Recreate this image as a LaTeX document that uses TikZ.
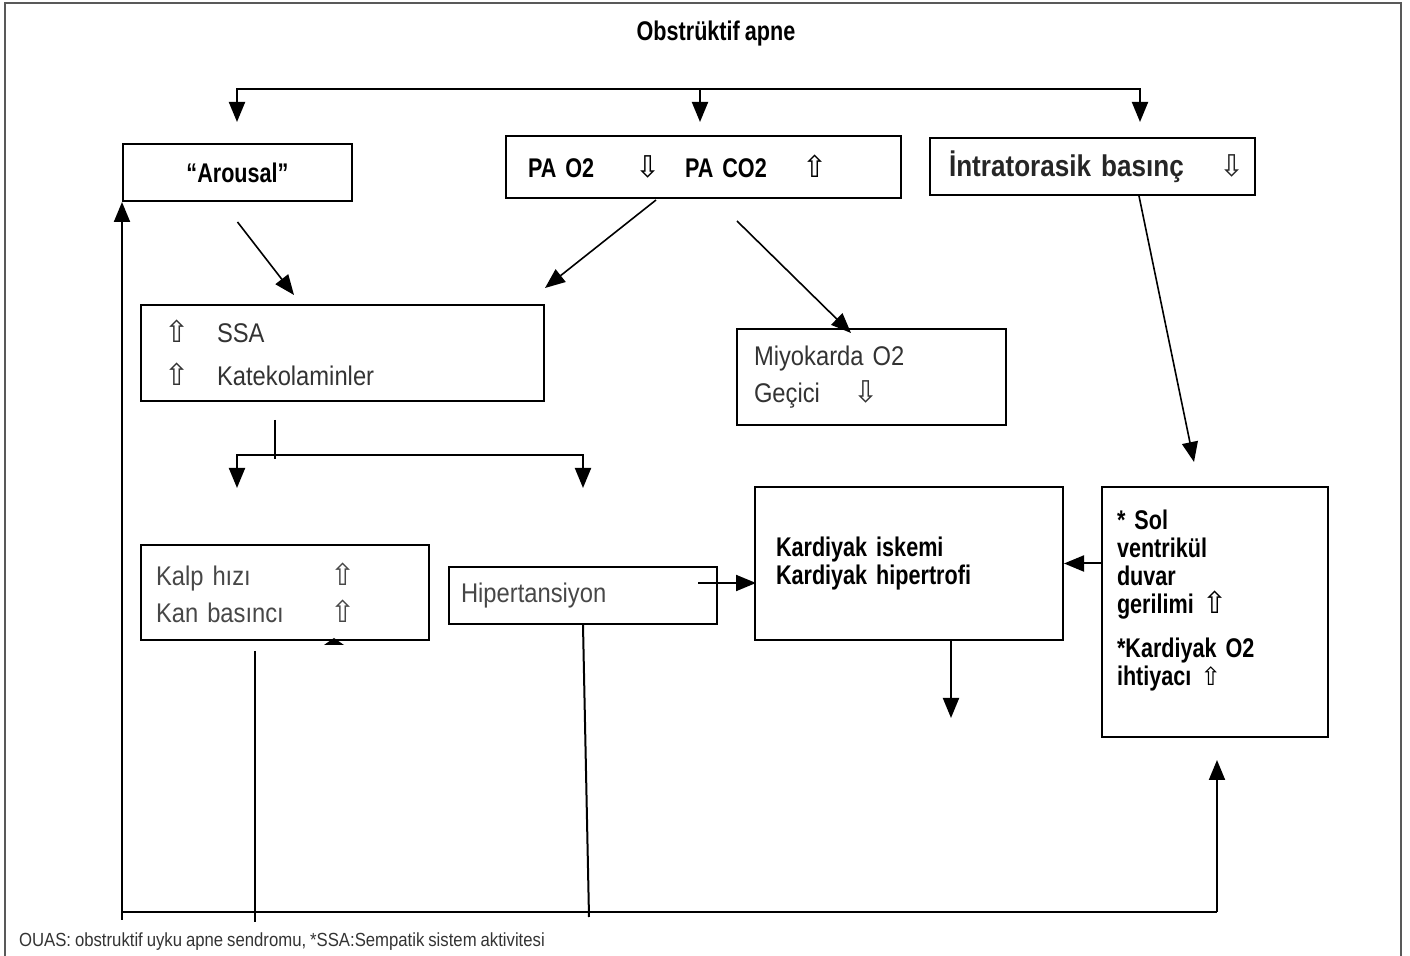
\documentclass[tikz,border=0pt]{standalone}
\usepackage{fontspec}
\setmainfont{Liberation Sans}[FakeStretch=0.88,WordSpace=0.85]
\newfontfamily\hdfont{Liberation Sans}[FakeStretch=0.8,WordSpace=0.85]
\newfontfamily\widefont{Liberation Sans}[FakeStretch=0.87,WordSpace=0.9]
\newfontfamily\arrfont{DejaVu Sans}
\usetikzlibrary{arrows.meta,positioning}
\newcommand{\upar}{{\arrfont\mdseries\fontsize{15}{15}\selectfont\char"21E7}}
\newcommand{\dnar}{{\arrfont\mdseries\fontsize{15}{15}\selectfont\char"21E9}}
\tikzset{
    box/.style={draw,line width=1pt,anchor=north west,inner ysep=0pt,align=left},
    plain text/.style={font=\fontsize{13.5}{18.5}\selectfont,text=black!80},
    heavy text/.style={font=\hdfont\bfseries\fontsize{13.5}{14}\selectfont},
    link/.style={line width=1pt},
    diag/.style={line width=0.8pt},
    >={Triangle[length=10pt,width=8pt]}
}

\begin{document}
\begin{tikzpicture}[x=0.5pt,y=-0.5pt]
\useasboundingbox (0,0) rectangle (1410,956);
\draw[line width=1pt,black!65] (5,960) -- (5,3) -- (1401,3) -- (1401,960);

\node[heavy text] (title) at (716,34) {Obstrüktif apne};

% first row
\node[box,heavy text,align=center,minimum width=114.5pt,minimum height=28.5pt,text width=100pt,inner xsep=7.25pt] (arousal) at (122,143) {“Arousal”};
\node[box,heavy text,minimum width=197.5pt,minimum height=31pt,text width=175.5pt,inner xsep=11pt] (pa) at (505,135)
    {\makebox[53.5pt][l]{PA O2}\makebox[25pt][l]{\dnar}\makebox[58.5pt][l]{PA CO2}\upar};
\node[box,font=\widefont\bfseries\fontsize{15}{15}\selectfont,text=black!85,minimum width=162.5pt,minimum height=28.5pt,text width=143.5pt,inner xsep=9.5pt] (intra) at (929,137)
    {\makebox[135pt][l]{İntratorasik basınç}\dnar};

% second row
\node[box,plain text,font=\fontsize{13.5}{21.5}\selectfont,minimum width=201.5pt,minimum height=48pt,text width=178.5pt,inner xsep=10.5pt] (ssa) at (140,304)
    {\makebox[26.5pt][l]{\upar}SSA\\\makebox[26.5pt][l]{\upar}Katekolaminler};
\node[box,plain text,minimum width=134.5pt,minimum height=48pt,text width=117.5pt,inner xsep=8.5pt] (miyo) at (736,328)
    {Miyokarda O2\\\makebox[49.5pt][l]{Geçici}\dnar};

% third row
\node[box,plain text,text=black!72,minimum width=144pt,minimum height=47.5pt,text width=129pt,inner xsep=7.5pt] (kalp) at (140,544)
    {\makebox[87pt][l]{Kalp hızı}\upar\\\makebox[87pt][l]{Kan basıncı}\upar};
\node[box,plain text,text=black!72,minimum width=134pt,minimum height=28.5pt,text width=122pt,inner xsep=6pt] (hiper) at (448,566) {Hipertansiyon};
\node[box,heavy text,font=\hdfont\bfseries\fontsize{13.5}{12.5}\selectfont,minimum width=154pt,minimum height=76.5pt,text width=133pt,inner xsep=10.5pt] (kard) at (754,486)
    {Kardiyak iskemi\\Kardiyak hipertrofi};
\node[box,heavy text,minimum width=113pt,minimum height=125pt,text width=98pt,inner xsep=7.5pt] (sol) at (1101,486)
    {* Sol\\ventrikül\\duvar\\gerilimi \upar\\[8pt]*Kardiyak O2\\ihtiyacı {\arrfont\mdseries\fontsize{12.5}{12}\selectfont\char"21E7}\\\mbox{}};

% top split
\coordinate (split) at (700,89);
\draw[link,->] (split) -- ++(0,33);
\draw[link,->] (split) -| ++(-463,33);
\draw[link,->] (split) -| ++(440,33);

% slanted arrows
\draw[diag,->] ([yshift=-10pt]arousal.south) -- ([shift={(-48.5,-9)}]ssa.north);
\draw[diag,->] ([shift={(-47.5,1)}]pa.south) -- ([yshift=8pt]ssa.north east);
\draw[diag,->] ([shift={(33.5,22)}]pa.south) -- ([shift={(-20.5,5)}]miyo.north);
\draw[diag,->] ([xshift=23.25pt]intra.south) -- ([shift={(-21,-24)}]sol.north);

% fork under SSA
\coordinate (fork) at (274,455);
\draw[link] ([shift={(-67.5,18)}]ssa.south) -- ++(0,39);
\draw[link,->] (fork) -| ++(-37,33);
\draw[link,->] (fork) -| ++(309,33);

% into Kardiyak
\draw[link,->] ([shift={(-20,-12.5)}]hiper.east) -- ++(58,0);
\draw[link,->] (sol.west |- kard.east) -- (kard.east);
\draw[link,->] ([xshift=21pt]kard.south) -- ++(0,77);
\fill (324,645) -- (344,645) -- (334,638) -- cycle;

% feedback loop
\coordinate (loopL) at (122,912);
\coordinate (loopR) at (1217,912);
\draw[link] (loopL) -- (loopR);
\draw[link,->] ([yshift=-4pt]loopL) -- (arousal.south west);
\draw[link,->] (loopR) -- ++(0,-152);
\draw[link] ([shift={(-30,10)}]kalp.south) -- ++(0,271);
\draw[link] (hiper.south) -- ++(6,292);

\node[anchor=west,font=\fontsize{9.5}{10}\selectfont,text=black!80] (note) at (12,942)
    {OUAS: obstruktif uyku apne sendromu, *SSA:Sempatik sistem aktivitesi};
\end{tikzpicture}
\end{document}
